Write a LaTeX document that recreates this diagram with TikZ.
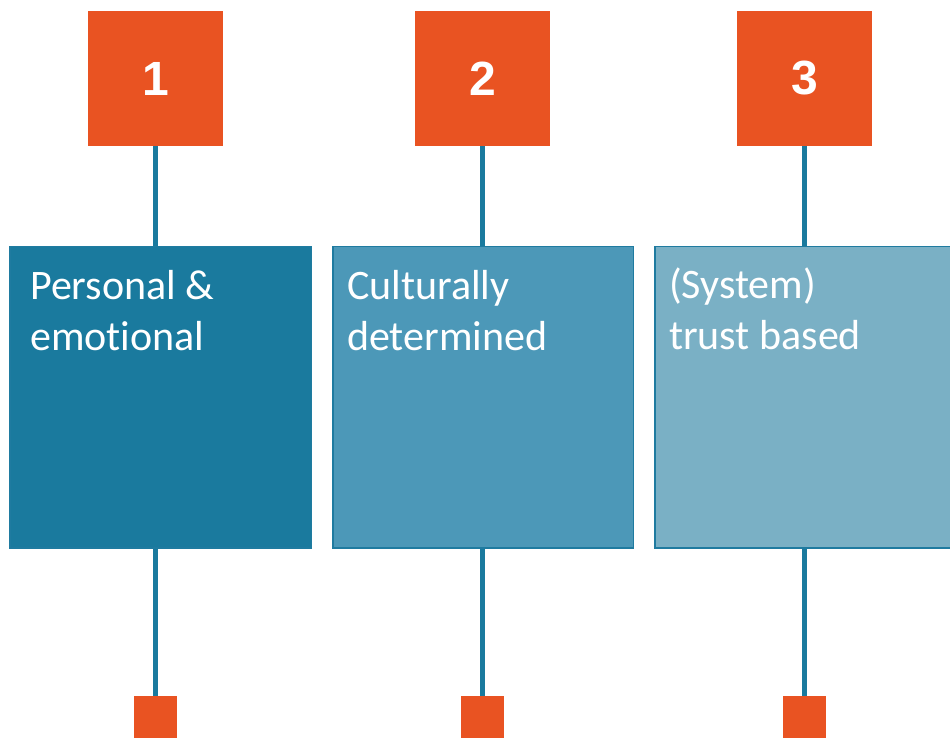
\documentclass[tikz,border=0pt]{standalone}
\usepackage{fontspec}
\setmainfont{Carlito}[Ligatures=NoCommon]
\newfontfamily\numfont{Liberation Sans}
\usetikzlibrary{positioning}
\definecolor{orng}{HTML}{E95322}
\definecolor{blueA}{HTML}{1A7A9E}
\definecolor{blueB}{HTML}{4C98B8}
\definecolor{blueC}{HTML}{7AB0C5}
\definecolor{rim}{HTML}{1F7BA0}

\begin{document}
\begin{tikzpicture}[x=1pt,y=1pt,
    numbox/.style={fill=orng,minimum size=135pt,inner sep=0pt,text=white,
      font=\numfont\bfseries\fontsize{48}{48}\selectfont},
    catbox/.style={draw=rim,line width=1.5pt,minimum width=300.5pt,minimum height=301.5pt,inner sep=0pt},
    endbox/.style={fill=orng,minimum size=43pt,inner sep=0pt},
    boxtext/.style={anchor=north west,inner sep=0pt,align=left,text=white,
      font=\fontsize{42}{51}\selectfont},
    link/.style={draw=blueA,line width=5pt}]
    \useasboundingbox (0,0) rectangle (950,738);
    \clip (0,0) rectangle (950,738);
    % numbers on top
    \node[numbox] (n1) at (155.5,659.5) {1};
    \node[numbox] (n2) at (482.5,659.5) {2};
    \node[numbox] (n3) at (804.5,659.5) {3};
    % the three categories
    \node[catbox,fill=blueA,minimum width=301.5pt] (c1) at (160.5,340.5) {};
    \node[catbox,fill=blueB] (c2) at (483,340.5) {};
    \node[catbox,fill=blueC] (c3) at (805,340.5) {};
    \node[boxtext] (t1) at ([xshift=21pt,yshift=-24pt]c1.north west) {Personal \&\\emotional};
    \node[boxtext] (t2) at ([xshift=15pt,yshift=-24pt]c2.north west) {Culturally\\determined};
    \node[boxtext] (t3) at ([xshift=15pt,yshift=-22pt]c3.north west) {(System)\\trust based};
    % small squares at the bottom
    \node[endbox] (e1) at (155.5,20.5) {};
    \node[endbox] (e2) at (482.5,20.5) {};
    \node[endbox] (e3) at (804.5,20.5) {};
    % connectors
    \foreach \i in {1,2,3}{
      \draw[link] (n\i.south) -- (n\i.south |- c\i.north);
      \draw[link] (c\i.south -| e\i.north) -- (e\i.north);
    }
\end{tikzpicture}
\end{document}
